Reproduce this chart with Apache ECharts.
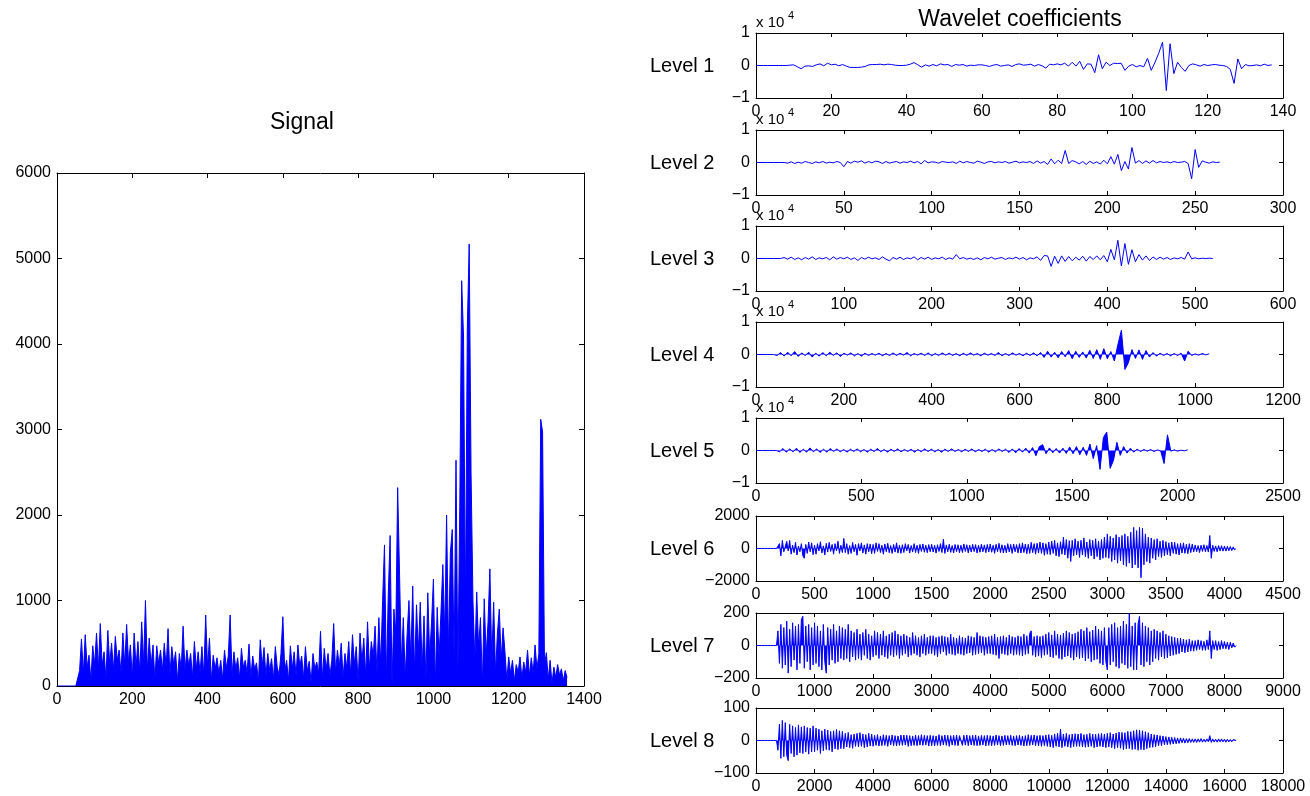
<!DOCTYPE html>
<html><head><meta charset="utf-8">
<script src="https://cdn.jsdelivr.net/npm/echarts@6/dist/echarts.min.js"></script>
<style>html,body{margin:0;padding:0;background:#fff}#c{width:1310px;height:796px}</style>
</head><body><div id="c"></div><script>
// ---------------- DATA ----------------
// Signal: sampled every 5 units starting at 0
const SIG_START = 0, SIG_STEP = 5;
const SIG_VALS = [
 0,0,0,0,0,0,0,0,0,0,0,0,
 180,550,150,600,220,360,60,470,250,620,
 200,730,240,400,90,650,260,500,180,580,
 300,420,150,620,240,720,280,480,100,620,
 220,520,160,750,260,1000,180,560,240,480,
 80,470,260,420,180,500,220,670,120,460,
 250,400,60,380,200,700,180,420,240,380,
 100,520,200,400,150,460,120,830,220,560,
 60,360,200,330,150,300,80,420,210,350,
 830,120,400,200,330,90,440,220,300,150,
 490,100,350,200,270,50,540,230,450,120,
 380,180,320,80,460,220,130,380,810,180,
 300,60,470,200,400,120,480,230,350,90,
 460,170,290,40,380,200,280,150,640,80,
 440,190,380,120,300,730,160,420,230,500,
 100,380,210,520,130,600,260,460,50,620,
 280,560,120,750,200,520,350,700,150,800,
 250,1000,1650,80,1060,1760,0,900,620,2320,
 1300,250,800,100,600,1000,300,1170,150,950,
 400,980,200,820,60,1090,350,740,1250,0,
 920,340,860,1420,600,2000,400,1560,1830,300,
 2640,150,2100,4740,4080,900,4180,5170,2480,1000,
 300,1100,450,800,0,1020,350,740,1370,300,
 980,150,620,900,300,680,400,60,340,150,
 300,60,250,160,340,90,280,160,420,120,
 330,150,480,200,380,3120,2970,250,390,80,
 300,30,220,100,250,130,200,60,180,100
];
// Wavelet coefficient levels
const L1_START = 0, L1_STEP = 1;
const L1_VALS = [
 0,0,0,0,0,0,0,0,0,100,
 200,-400,-1000,-200,-100,-300,200,500,-100,700,
 200,400,-100,300,-200,-600,-600,-600,-500,-300,
 200,300,300,400,200,400,300,100,0,0,
 100,400,900,200,-500,200,-200,300,-100,500,
 200,300,-300,300,100,300,-200,100,0,200,
 200,0,-300,100,300,-200,0,200,-300,300,
 500,100,200,400,-200,300,-100,-800,400,200,
 500,200,700,-200,1000,-200,1300,-1200,500,400,
 -2200,3300,-1000,1000,0,700,600,700,-1500,-200,
 300,-400,0,-400,2200,-1500,1000,3800,7200,-7700,
 6700,-2500,1000,-600,-1800,0,500,200,-200,300,
 0,200,300,100,0,-300,-1200,-5500,2000,-1000,
 300,-100,0,200,-100,400,0,200
];
const L2_START = 0, L2_STEP = 2;
const L2_VALS = [
 0,0,0,0,0,0,0,0,0,-200,
 200,-300,100,-200,300,0,-300,200,-100,300,
 -200,100,-100,300,0,-1300,300,-200,400,100,
 500,-200,300,-100,400,200,-300,300,-200,100,
 300,-200,200,0,400,-100,300,-400,600,-100,
 200,100,-200,300,100,0,200,-300,400,-100,
 300,0,-200,400,100,-300,200,300,-100,200,
 0,300,-200,100,400,-100,200,0,300,-300,
 500,-200,300,-600,1100,-400,700,-300,3700,-300,
 600,200,-400,300,-600,400,-300,200,-500,700,
 -400,1800,-500,2500,-2500,300,-2000,4600,-200,600,
 -300,500,-200,600,-100,300,0,200,-100,300,
 0,100,300,-300,-5000,4000,-1500,500,100,-200,
 200,0,100
];
const L3_START = 0, L3_STEP = 4;
const L3_VALS = [
 0,0,0,0,0,0,0,0,300,-200,
 400,-300,200,-400,300,-200,500,-300,200,-100,
 300,-400,500,-200,300,-100,400,-300,200,-600,
 300,-200,400,-100,200,-300,500,-200,-700,300,
 -200,400,-300,200,-100,500,-400,300,-200,400,
 -300,200,-100,400,-300,200,-200,1200,-100,300,
 -200,100,-300,200,-400,300,-100,400,-200,100,
 300,-300,200,-100,400,-200,300,-400,200,-100,
 500,-600,900,800,-2400,700,-1500,800,-900,600,
 -700,400,-500,700,-800,600,-300,800,-400,900,
 -1000,2800,-400,5600,-2300,4600,-1800,2700,-1000,1200,
 -500,800,-600,500,-300,400,-200,300,-300,200,
 -100,300,-200,2000,-100,200,-100,100,0,100,
 0
];
const L4_START = 0, L4_STEP = 8;
const L4_VALS = [
 0,0,0,0,0,0,-300,600,-500,700,
 -400,900,-600,500,-300,700,-800,400,-500,600,
 -400,700,-300,500,-600,400,-200,500,-400,300,
 -500,400,-300,300,-200,400,-400,300,-300,500,
 -300,400,-200,600,-400,300,-200,400,-300,500,
 -400,300,-300,500,-200,400,-300,300,-400,400,
 -300,500,-200,300,-400,400,-200,300,-300,600,
 -400,300,-300,500,-200,300,-400,400,-300,500,
 -400,600,-900,1000,-800,700,-1000,900,-700,1200,
 -1300,1000,-900,800,-1100,1300,-1200,1500,-1500,1800,
 -1300,900,-2000,3000,7500,-4600,-2500,1500,-1200,1400,
 -1500,1200,-800,600,-500,400,-300,300,-400,300,
 -300,400,-2000,1000,-300,200,-200,300,-100,200
];
const L5_START = 0, L5_STEP = 16;
const L5_VALS = [
 0,0,0,0,0,0,0,-400,600,-500,
 500,-400,700,-600,400,-500,800,-400,500,-600,
 400,-500,600,-300,500,-400,300,-500,400,-300,
 500,-400,300,-500,400,-300,600,-400,300,-500,
 400,-300,500,-400,300,-300,400,-500,300,-400,
 500,-300,400,-400,300,-500,400,-300,500,-300,
 300,-400,400,-300,500,-400,300,-300,400,-500,
 300,-400,500,-300,400,-600,500,-700,600,-500,
 700,-800,900,-1600,1200,1800,-1000,800,-700,600,
 -800,700,-900,1100,-1000,1200,-1300,1000,-1500,2000,
 -2500,1500,-5800,4000,5700,-5500,-3000,2500,-1500,1200,
 -800,700,-500,400,-300,300,-200,300,-300,200,
 -200,-4000,4800,-200,200,-200,100,-100,200
];
const L6_START = 0, L6_STEP = 12.5;
const L6_VALS = [
 0,0,0,0,0,0,0,0,0,0,0,0,0,0,0,0,300,-450,500,-200,
 -300,450,-150,500,-350,200,-250,380,-400,150,-200,300,-450,-600,250,-300,400,-200,350,-380,
 200,-350,300,-150,420,-280,160,-400,320,-220,380,-180,250,-350,300,-150,450,-300,200,-250,
 620,-250,300,-350,180,-300,380,-200,250,-420,300,-150,350,-280,220,-350,300,-200,280,-320,
 250,-300,350,-180,300,-250,200,-350,280,-200,320,-260,180,-300,250,-220,350,-280,200,-300,
 230,-250,300,-150,250,-280,180,-220,300,-250,200,-300,250,-180,280,-230,200,-260,240,-200,
 260,-220,200,-280,230,-180,300,-250,580,-300,220,-200,260,-240,180,-280,250,-200,230,-260,
 200,-250,280,-180,230,-270,200,-220,260,-190,240,-280,200,-230,270,-200,220,-260,250,-210,
 280,-230,200,-300,260,-200,320,-250,230,-280,200,-260,300,-220,250,-300,280,-200,240,-270,
 300,-280,350,-250,280,-320,260,-300,380,-260,300,-350,320,-280,400,-300,350,-420,300,-350,
 400,-380,450,-300,500,-450,350,-500,420,-350,700,-400,550,-600,480,-800,500,-450,600,-400,
 450,-550,500,-400,650,-500,400,-600,550,-450,500,-650,600,-500,450,-700,550,-600,700,-550,
 900,-600,750,-800,650,-700,850,-900,700,-750,800,-1000,900,-1100,750,-900,1000,-1200,1300,-1000,
 1100,-1200,1300,-1800,1250,-1000,900,-800,700,-900,650,-600,550,-700,600,-500,450,-550,500,-450,
 420,-380,350,-450,400,-300,380,-350,300,-400,320,-280,350,-300,260,-320,300,-250,280,-220,
 220,-200,180,-250,200,-180,230,-200,180,-220,800,-600,200,-180,160,-200,180,-150,170,-160,
 150,-160,130,-140,120,-130,100,-80,0
];
const L7_START = 0, L7_STEP = 25;
const L7_VALS = [
 0,0,0,0,0,0,0,0,0,0,0,0,0,0,0,90,-110,130,-140,110,
 -120,150,-170,100,-130,140,-90,120,-150,130,-110,160,180,-140,120,-100,130,-150,110,-120,
 140,-110,120,-130,90,-150,130,-100,-170,110,-120,100,-90,130,-110,90,-100,120,-80,110,
 -90,100,-80,130,-100,90,-70,80,-90,100,-80,70,-90,80,-60,100,-80,70,-90,60,
 -70,90,-60,80,-80,70,-60,90,-70,60,-80,70,-60,80,-70,90,-60,70,-80,60,
 -60,70,-50,60,-70,50,-60,80,-50,60,-60,50,-70,60,-50,70,-60,50,-50,60,
 -50,60,-60,50,-70,55,-50,60,-40,55,-60,50,-50,70,-55,50,-60,45,-50,60,
 -55,50,-60,45,-50,60,-45,55,-60,50,-55,80,-50,60,-45,55,-60,50,-50,55,
 -50,60,-55,70,-60,50,-80,55,-50,60,-55,50,-60,65,-50,55,-60,50,-55,60,
 -60,55,-65,70,-55,60,-50,75,90,-60,55,-70,60,-65,55,-75,60,-60,70,-55,
 80,-70,65,-75,90,-60,70,-80,65,-85,75,-70,90,-65,80,-75,70,-90,75,-70,
 85,-80,100,-75,90,-95,110,-80,85,-100,95,-90,120,-85,100,-110,90,-120,110,-100,
 -150,110,-120,130,-100,140,-130,110,-140,120,-110,150,-120,130,-140,200,-130,120,-150,140,
 -150,130,180,-120,140,-130,120,-100,110,-120,90,-100,100,-80,90,-90,80,-70,90,-80,
 70,-75,60,-65,55,-60,50,-55,45,-50,45,-40,40,-45,35,-40,40,-35,30,-35,
 30,-30,35,-25,30,-30,25,-30,35,-25,90,-80,30,-25,30,-30,25,-25,30,-20,
 25,-20,20,-25,20,-15,15,-10,0
];
const L8_START = 0, L8_STEP = 50;
const L8_VALS = [
 0,0,0,0,0,0,0,0,0,0,0,0,0,0,0,-30,50,-55,62,-50,
 55,-45,-62,50,-40,45,-50,40,-45,48,-38,42,-40,45,-35,40,-42,38,-35,45,
 -35,38,-30,35,-40,30,-32,35,-28,32,-30,28,-35,30,-26,34,-28,30,-25,28,
 -25,22,-20,25,-22,18,-24,20,-18,22,-20,24,-18,20,-22,18,-20,22,-17,20,
 -18,16,-15,18,-17,14,-16,18,-15,16,-18,15,-14,17,-16,15,-17,14,-15,17,
 -15,17,-14,16,-18,15,-16,14,-15,17,-16,15,-14,18,-15,16,-14,15,-17,16,
 -16,15,-17,14,-15,18,-16,15,-14,17,-15,16,-18,15,-14,16,-15,17,-16,15,
 20,-15,16,-14,17,-16,15,-14,16,-15,17,-16,14,-15,16,-14,15,-17,16,-15,
 15,-16,14,-15,17,-14,15,-16,14,-15,16,-14,15,-13,16,-15,14,-16,15,-14,
 16,-15,14,-17,15,-16,18,-15,16,-14,17,-16,15,-17,16,-18,15,-16,17,-18,
 18,-20,16,-22,20,-18,22,-20,35,-22,20,-18,22,-20,18,-22,20,-19,21,-18,
 20,-18,22,-20,18,-21,19,-20,22,-18,20,-22,19,-20,21,-18,22,-20,20,-22,
 22,-20,24,-22,20,-25,23,-22,26,-24,25,-28,24,-26,28,-25,27,-28,30,-27,
 33,-30,32,-28,30,-29,27,-25,24,-22,20,-21,18,-19,17,-16,15,-16,14,-13,
 12,-13,11,-12,10,-11,9,-10,8,-9,8,-7,7,-8,6,-7,6,-6,5,-6,
 5,-6,5,-5,6,-5,4,-5,5,-4,15,-6,5,-5,4,-5,5,-4,5,-4,
 4,-5,4,-4,3,-4,3,-2,0
];
const LEVEL_NAMES = ['Level 1','Level 2','Level 3','Level 4','Level 5','Level 6','Level 7','Level 8'];
const LEVEL_X_MAX = [140,300,600,1200,2500,4500,9000,18000];
const LEVEL_X_INT = [20,50,100,200,500,500,1000,2000];
const LEVEL_Y_MAX = [10000,10000,10000,10000,10000,2000,200,100];
const LEVEL_Y_DIV = [10000,10000,10000,10000,10000,1,1,1];
const SIG_X_MAX = 1400, SIG_X_INT = 200, SIG_Y_MAX = 6000, SIG_Y_INT = 1000;

// ---------------- LAYOUT / STYLE ----------------
const FONT = '"Liberation Sans", Arial, Helvetica, sans-serif';
const BLUE = '#0000ff';
const TICK_FS = 16;
const LEFT_GRID = {left:57, top:173, width:527, height:513};
const R_LEFT = 756, R_WIDTH = 527, R_HEIGHT = 65;
const R_TOPS = [33,130,226,322,418,516,613,708];
const LEVEL_DENSE = [false,false,false,true,true,true,true,true];

function pts(start, step, vals){ return vals.map((v,i)=>[start+i*step, v]); }
function minus(s){ return String(s).replace('-', '\u2212'); }

const grids=[], xAxes=[], yAxes=[], series=[], graphic=[];

function axisBase(tickLen){
  return {
    type:'value',
    axisLine:{show:true, onZero:false, lineStyle:{color:'#000', width:1}},
    splitLine:{show:false},
    axisTick:{show:true, inside:true, length:tickLen, lineStyle:{color:'#000', width:1}},
  };
}
function addPanel(g, xmax, xint, ymax, yint, ymin, ydiv, data, tickLen, dense){
  const gi = grids.length;
  grids.push(Object.assign({containLabel:false}, g));
  const lab = {color:'#000', fontSize:TICK_FS, fontFamily:FONT};
  xAxes.push(Object.assign(axisBase(tickLen), {gridIndex:gi, position:'bottom', min:0, max:xmax, interval:xint,
    axisLabel:Object.assign({margin:6, formatter:v=>minus(v)}, lab)}));
  const xi = xAxes.length-1;
  xAxes.push(Object.assign(axisBase(tickLen), {gridIndex:gi, position:'top', min:0, max:xmax, interval:xint, axisLabel:{show:false}}));
  yAxes.push(Object.assign(axisBase(tickLen), {gridIndex:gi, position:'left', min:ymin, max:ymax, interval:yint,
    axisLabel:Object.assign({margin:6, formatter:v=>minus(Math.round(v/ydiv))}, lab)}));
  const yi = yAxes.length-1;
  yAxes.push(Object.assign(axisBase(tickLen), {gridIndex:gi, position:'right', min:ymin, max:ymax, interval:yint, axisLabel:{show:false}}));
  const s = {type:'line', xAxisIndex:xi, yAxisIndex:yi, data:data, showSymbol:false, symbol:'none',
    lineStyle:{color:BLUE, width:1}, itemStyle:{color:BLUE}, silent:true, clip:true, z:1};
  if (dense) s.areaStyle = {color:BLUE, opacity:1, origin:0};
  series.push(s);
}

addPanel(LEFT_GRID, SIG_X_MAX, SIG_X_INT, SIG_Y_MAX, SIG_Y_INT, 0, 1, pts(SIG_START, SIG_STEP, SIG_VALS), 5, true);

const LV = [
  pts(L1_START,L1_STEP,L1_VALS), pts(L2_START,L2_STEP,L2_VALS), pts(L3_START,L3_STEP,L3_VALS), pts(L4_START,L4_STEP,L4_VALS),
  pts(L5_START,L5_STEP,L5_VALS), pts(L6_START,L6_STEP,L6_VALS), pts(L7_START,L7_STEP,L7_VALS), pts(L8_START,L8_STEP,L8_VALS)
];
for(let i=0;i<8;i++){
  addPanel({left:R_LEFT, top:R_TOPS[i], width:R_WIDTH, height:R_HEIGHT},
    LEVEL_X_MAX[i], LEVEL_X_INT[i], LEVEL_Y_MAX[i], LEVEL_Y_MAX[i], -LEVEL_Y_MAX[i], LEVEL_Y_DIV[i], LV[i], 4, LEVEL_DENSE[i]);
  graphic.push({type:'text', x:650, y:R_TOPS[i]+R_HEIGHT/2+1, silent:true,
    style:{text:LEVEL_NAMES[i], fontSize:20, fontFamily:FONT, fill:'#000', align:'left', verticalAlign:'middle'}});
  if (LEVEL_Y_DIV[i] !== 1){
    graphic.push({type:'text', x:R_LEFT, y:R_TOPS[i]-3, silent:true,
      style:{text:'x 10', fontSize:15, fontFamily:FONT, fill:'#000', align:'left', verticalAlign:'bottom'}});
    graphic.push({type:'text', x:R_LEFT+32, y:R_TOPS[i]-12, silent:true,
      style:{text:'4', fontSize:11, fontFamily:FONT, fill:'#000', align:'left', verticalAlign:'bottom'}});
  }
}
graphic.push({type:'text', x:302, y:123, silent:true,
  style:{text:'Signal', fontSize:23, fontFamily:FONT, fill:'#000', align:'center', verticalAlign:'middle'}});
graphic.push({type:'text', x:1020, y:20, silent:true,
  style:{text:'Wavelet coefficients', fontSize:23, fontFamily:FONT, fill:'#000', align:'center', verticalAlign:'middle'}});

const chart = echarts.init(document.getElementById('c'), null, {renderer:'canvas'});
chart.setOption({
  backgroundColor:'#ffffff',
  animation:false,
  grid:grids, xAxis:xAxes, yAxis:yAxes, series:series, graphic:graphic
});
</script></body></html>
